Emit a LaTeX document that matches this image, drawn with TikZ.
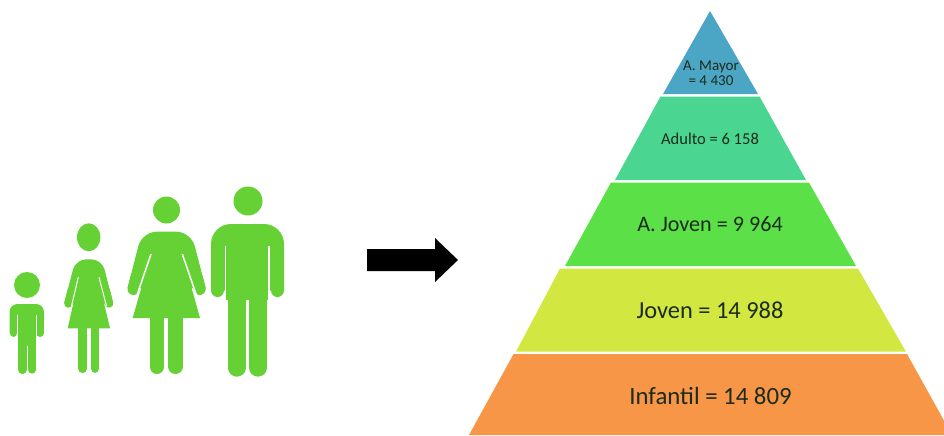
\documentclass[tikz,border=0pt]{standalone}
\usepackage{fontspec}
\setmainfont{Carlito}
\definecolor{figgreen}{HTML}{66D134}
\definecolor{laybl}{HTML}{4BA5C4}
\definecolor{layte}{HTML}{4AD690}
\definecolor{laygr}{HTML}{5CE048}
\definecolor{layye}{HTML}{D2E840}
\definecolor{layor}{HTML}{F79646}
\definecolor{labtxt}{HTML}{1C2B1C}
\tikzset{
  figshape/.style={fill=figgreen,draw=none},
  limb/.style={draw=figgreen,line cap=round,line width=#1*0.75pt},
  gapline/.style={draw=white,line width=#1*0.75pt},
  layer/.style={draw=none,fill=#1},
  lab/.style={text=labtxt,inner sep=0pt,align=center},
  labinf/.style={lab,font=\fontsize{18.6}{22}\selectfont},
  labjov/.style={lab,font=\fontsize{18.3}{22}\selectfont},
  labajo/.style={lab,font=\fontsize{16.6}{20}\selectfont},
  labadu/.style={lab,font=\fontsize{12.4}{14}\selectfont},
  labmay/.style={lab,font=\fontsize{11.3}{11.5}\selectfont},
}
\begin{document}
\begin{tikzpicture}[x=0.75pt,y=-0.75pt]
\useasboundingbox (0,0) rectangle (944,435);
\clip (0,0) rectangle (944,435);
\fill[white] (0,0) rectangle (944,435);
% pyramid
\fill[layer=laybl] (710,11) -- (758,94) -- (663,94) -- cycle;
\fill[layer=layte] (660.5,96.5) -- (759.5,96.5) -- (806,180) -- (615,180) -- cycle;
\fill[layer=laygr] (611,182.5) -- (809,182.5) -- (856,266) -- (565,266) -- cycle;
\fill[layer=layye] (560,268.5) -- (858,268.5) -- (906,351.7) -- (516,351.7) -- cycle;
\fill[layer=layor] (513.6,354) -- (907,354) -- (952,435) -- (469,435) -- cycle;
\node[labmay] (mayor) at (711,73) {A. Mayor\\= 4 430};
\node[labadu] (adulto) at (710,139) {Adulto = 6 158};
\node[labajo] (ajoven) at (710,224) {A. Joven = 9 964};
\node[labjov] (joven) at (710,310) {Joven = 14 988};
\node[labinf] (infantil) at (710.5,396) {Infantil = 14 809};
% arrow
\fill[black] (367,249) -- (435,249) -- (435,238) -- (458,260) -- (435,282) -- (435,271) -- (367,271) -- cycle;
% boy
\fill[figshape] (27,285) circle (13);
\fill[figshape] (9.5,333) [rounded corners=6] -- (9.5,304) -- (44,304) [sharp corners] -- (44,333) -- cycle;
\draw[limb=7.5] (13.3,325) -- (13.3,333.2);
\draw[limb=7.5] (40.2,325) -- (40.2,333.2);
\fill[figshape] (18,330) rectangle (36,346);
\draw[gapline=1] (17.5,315) -- (17.5,339);
\draw[gapline=1] (36.2,315) -- (36.2,339);
\draw[limb=8.7] (22.3,340) -- (22.3,369.7);
\draw[limb=8] (32,340) -- (32,369.7);
% small woman
\fill[figshape] (88.7,237.3) ellipse (11.7 and 14);
\fill[figshape] (64.2,303.5) [rounded corners=8] -- (75.6,259.3) -- (102,259.3) [sharp corners] -- (113.2,303.5) -- cycle;
\fill[figshape] (67.7,328.3) -- (110,328.3) -- (98,278) -- (79,278) -- cycle;
\draw[limb=8.5] (71.9,290) -- (68.4,303.5);
\draw[limb=8.5] (105.5,290) -- (109,303.5);
\draw[gapline=1] (78.3,277.3) -- (71.5,306);
\draw[gapline=1] (99,277.3) -- (106.5,306);
\draw[limb=9] (82.8,325) -- (82.8,368.6);
\draw[limb=8.6] (95,325) -- (95,368.6);
% big woman
\fill[figshape] (166.5,210) circle (13.5);
\fill[figshape] (127.6,288) [rounded corners=11] -- (142,231.7) -- (191,231.7) [sharp corners] -- (205.7,288) -- cycle;
\fill[figshape] (132.7,318) -- (200,318) -- (181,250) -- (152,250) -- cycle;
\draw[limb=12] (136.3,278) -- (133.5,289);
\draw[limb=12] (196.9,278) -- (199.7,289);
\draw[gapline=1.5] (151,254) -- (136.7,296);
\draw[gapline=1.5] (182.3,254) -- (196.7,296);
\draw[limb=14] (157,315) -- (157,367);
\draw[limb=15] (175.5,315) -- (175.5,366.5);
% man
\fill[figshape] (248,201) circle (14.5);
\fill[figshape] (211,290.5) [rounded corners=15] -- (211,224) -- (284,224) [sharp corners] -- (284,290.5) -- cycle;
\draw[limb=13.5] (217.7,280) -- (217.7,290.3);
\draw[limb=13.5] (277.3,280) -- (277.3,290.3);
\fill[figshape] (226,285) rectangle (268,300);
\draw[gapline=1.5] (225.3,245.7) -- (225.3,299);
\draw[gapline=1.5] (269,245.7) -- (269,299);
\draw[limb=18] (236.7,290) -- (236.7,367.7);
\draw[limb=17.7] (257.9,290) -- (257.9,367.8);
\end{tikzpicture}
\end{document}
